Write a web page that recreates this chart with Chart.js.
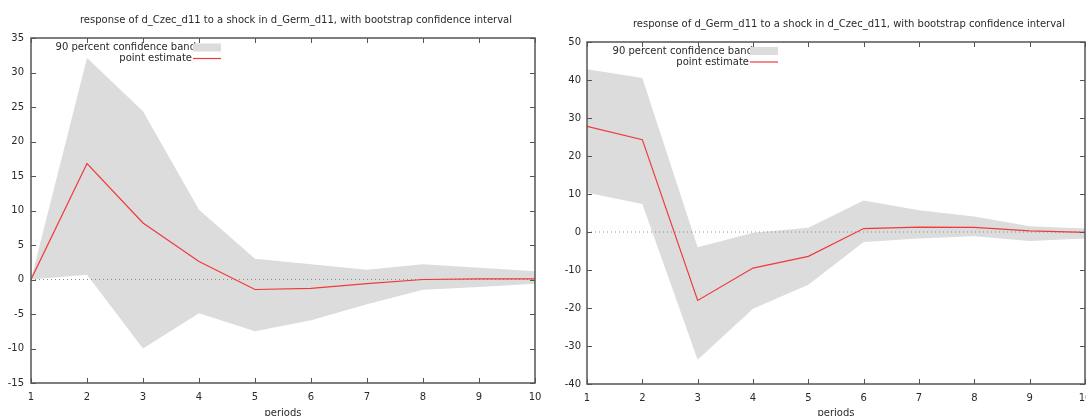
<!DOCTYPE html>
<html>
<head>
<meta charset="utf-8">
<script src="https://cdn.jsdelivr.net/npm/chart.js@4/dist/chart.umd.min.js"></script>
<style>
  html, body { margin: 0; padding: 0; background: #fff; overflow: hidden; }
  #left { position: absolute; left: 0; top: 0; }
  #right { position: absolute; left: 543px; top: 0; }
</style>
</head>
<body>
<canvas id="left" width="550" height="420"></canvas>
<canvas id="right" width="560" height="420"></canvas>
<script>
// --- data ---
const periods = [1, 2, 3, 4, 5, 6, 7, 8, 9, 10];

// response of d_Czec_d11 to a shock in d_Germ_d11
const czecPoint = [0, 16.8, 8.2, 2.6, -1.45, -1.3, -0.6, 0, 0.1, 0.1];
const czecUpper = [0, 32.1, 24.4, 10.1, 3.0, 2.2, 1.4, 2.2, 1.7, 1.2];
const czecLower = [0, 0.7, -10.0, -4.9, -7.5, -5.9, -3.6, -1.5, -1.1, -0.6];
const czecTicks = [-15, -10, -5, 0, 5, 10, 15, 20, 25, 30, 35];

// response of d_Germ_d11 to a shock in d_Czec_d11
const germPoint = [27.8, 24.3, -18.0, -9.5, -6.4, 0.9, 1.3, 1.2, 0.3, -0.1];
const germUpper = [42.8, 40.5, -4.0, -0.2, 1.1, 8.3, 5.7, 4.1, 1.5, 0.9];
const germLower = [10.3, 7.4, -33.6, -20.2, -13.9, -2.6, -1.7, -1.1, -2.4, -1.7];
const germTicks = [-40, -30, -20, -10, 0, 10, 20, 30, 40, 50];

const bandLabel = '90 percent confidence band';
const pointLabel = 'point estimate';

Chart.defaults.font.family = 'DejaVu Sans';
Chart.defaults.font.size = 10;
Chart.defaults.color = '#2a2a2a';

const FRAME = '#555';
const BAND = '#dcdcdc';
const RED = '#f03a3a';

// frame, inward ticks, title and gnuplot-style key
const gnuFrame = {
  id: 'gnuFrame',
  afterDatasetsDraw(chart, args, opts) {
    const { ctx, chartArea: a, scales: { x, y } } = chart;
    ctx.save();
    ctx.strokeStyle = FRAME;
    ctx.lineWidth = 1;
    ctx.beginPath();
    x.ticks.forEach(t => {
      const px = Math.round(x.getPixelForValue(t.value)) + 0.5;
      ctx.moveTo(px, a.bottom); ctx.lineTo(px, a.bottom - 5);
      ctx.moveTo(px, a.top); ctx.lineTo(px, a.top + 5);
    });
    y.ticks.forEach(t => {
      const py = Math.round(y.getPixelForValue(t.value)) + 0.5;
      ctx.moveTo(a.left, py); ctx.lineTo(a.left + 5, py);
      ctx.moveTo(a.right, py); ctx.lineTo(a.right - 5, py);
    });
    ctx.stroke();
    ctx.lineWidth = 1.5;
    ctx.strokeRect(a.left, a.top, a.right - a.left, a.bottom - a.top);

    // title
    ctx.fillStyle = '#2a2a2a';
    ctx.font = '10px "DejaVu Sans"';
    ctx.textAlign = 'center';
    ctx.textBaseline = 'middle';
    ctx.fillText(opts.title, (a.left + a.right) / 2 + 13, opts.titleY);

    // key
    const kx = a.left + opts.keyX;
    ctx.textAlign = 'right';
    ctx.fillText(bandLabel, kx + 4, opts.keyY);
    ctx.fillText(pointLabel, kx, opts.keyY + 11);
    ctx.fillStyle = BAND;
    ctx.fillRect(kx + 1, opts.keyY - 4, 28, 8);
    ctx.strokeStyle = RED;
    ctx.lineWidth = 1.2;
    ctx.beginPath();
    ctx.moveTo(kx + 1, opts.keyY + 11);
    ctx.lineTo(kx + 29, opts.keyY + 11);
    ctx.stroke();
    ctx.restore();
  }
};

function toXY(values) {
  return periods.map((p, i) => ({ x: p, y: values[i] }));
}

function makeChart(id, point, upper, lower, ticks, lay) {
  return new Chart(document.getElementById(id), {
    type: 'line',
    data: {
      datasets: [
        { data: toXY(upper), fill: '+1', backgroundColor: BAND, borderWidth: 0, pointRadius: 0, order: 3 },
        { data: toXY(lower), fill: false, borderWidth: 0, pointRadius: 0, order: 3 },
        { data: toXY(periods.map(() => 0)), borderColor: '#8a8a8a', borderWidth: 1, borderDash: [1, 3], pointRadius: 0, order: 1 },
        { data: toXY(point), borderColor: RED, borderWidth: 1.2, pointRadius: 0, order: 0 }
      ]
    },
    options: {
      responsive: false,
      animation: false,
      layout: { padding: { top: lay.top, right: lay.right, left: 0, bottom: 0 } },
      plugins: {
        legend: { display: false },
        tooltip: { enabled: false },
        gnuFrame: lay
      },
      scales: {
        x: {
          type: 'linear',
          min: 1,
          max: 10,
          afterBuildTicks: s => { s.ticks = periods.map(v => ({ value: v })); },
          afterFit: s => { s.height = lay.xh; },
          grid: { display: false, drawTicks: false },
          border: { display: false },
          ticks: { padding: 8, maxRotation: 0 },
          title: { display: true, text: 'periods', padding: { top: 0, bottom: 1 } }
        },
        y: {
          min: ticks[0],
          max: ticks[ticks.length - 1],
          afterBuildTicks: s => { s.ticks = ticks.map(v => ({ value: v })); },
          afterFit: s => { s.width = lay.yw; },
          grid: { display: false, drawTicks: false },
          border: { display: false },
          ticks: { padding: lay.ypad }
        }
      }
    },
    plugins: [gnuFrame]
  });
}

makeChart('left', czecPoint, czecUpper, czecLower, czecTicks, {
  top: 38, right: 15, xh: 37, yw: 31, ypad: 7,
  title: 'response of d_Czec_d11 to a shock in d_Germ_d11, with bootstrap confidence interval',
  titleY: 20.7, keyX: 161, keyY: 47.5
});

makeChart('right', germPoint, germUpper, germLower, germTicks, {
  top: 42, right: 18, xh: 36, yw: 44, ypad: 6,
  title: 'response of d_Germ_d11 to a shock in d_Czec_d11, with bootstrap confidence interval',
  titleY: 24.3, keyX: 162, keyY: 51
});
</script>
</body>
</html>
